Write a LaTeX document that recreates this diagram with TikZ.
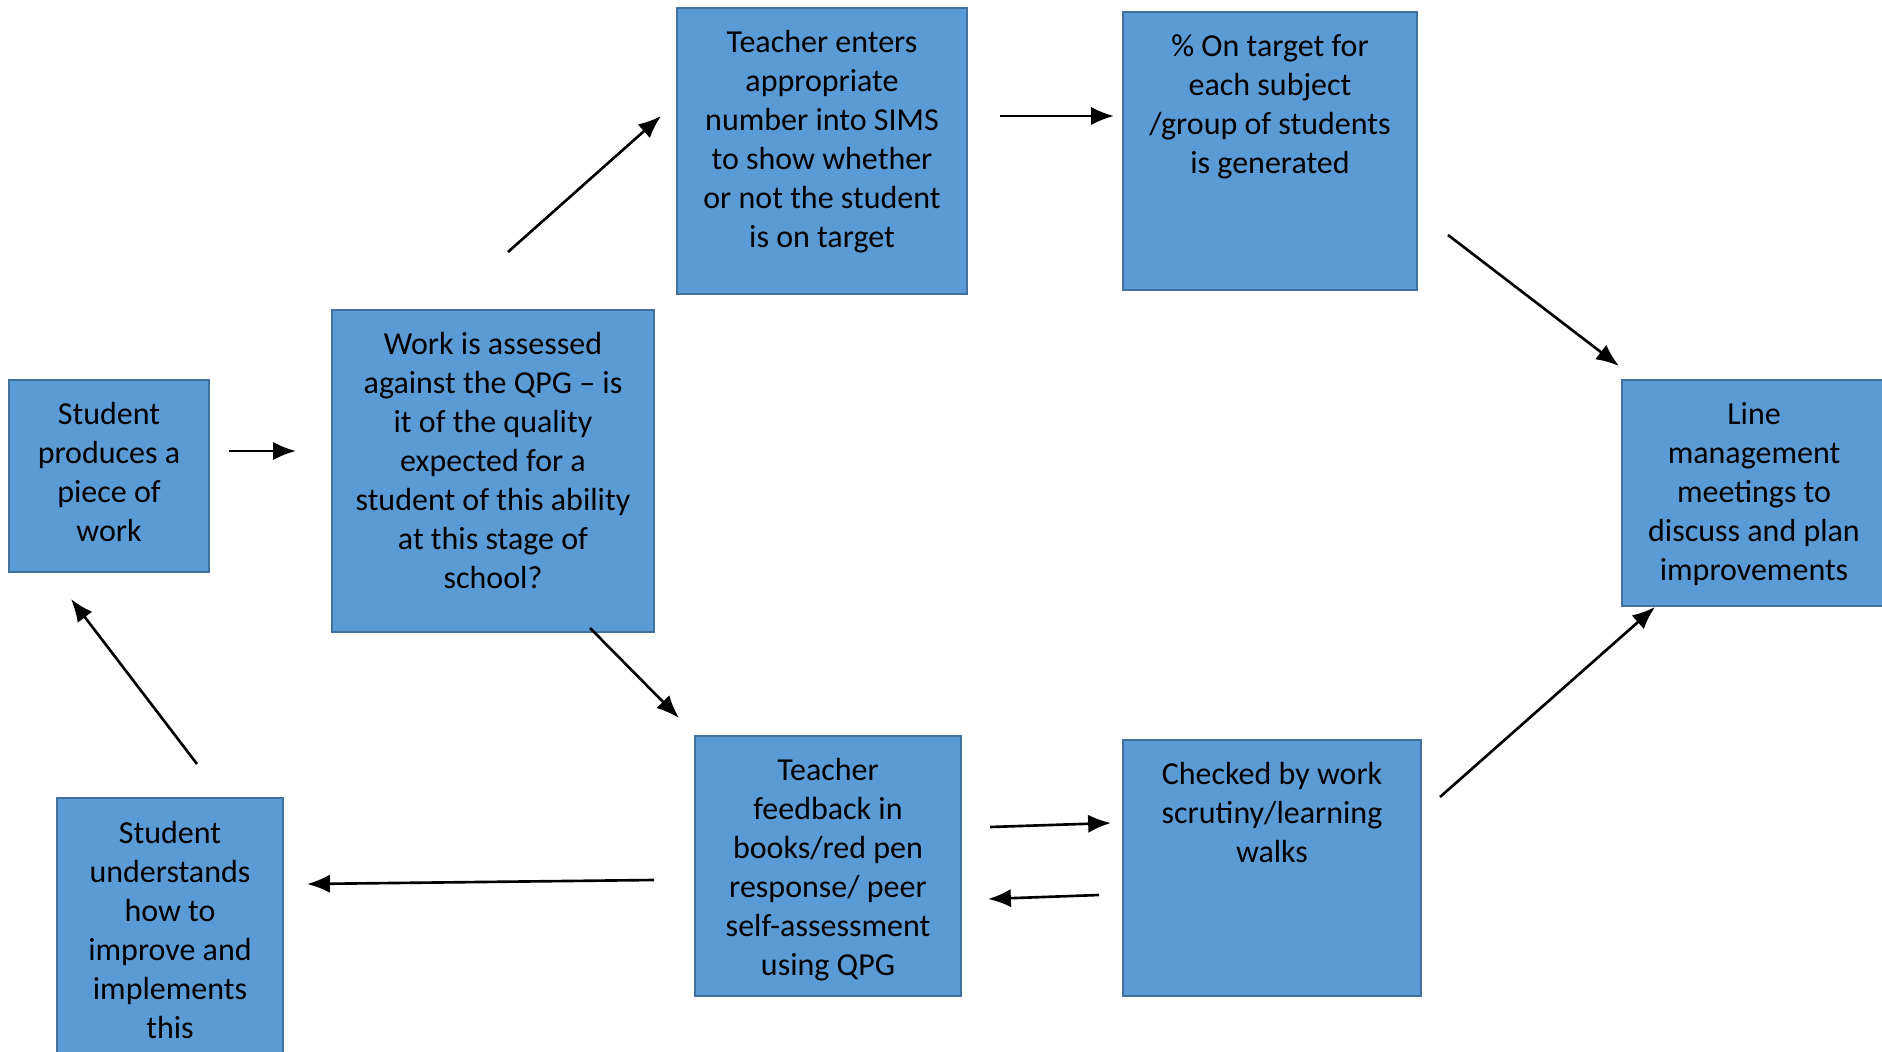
\documentclass[tikz,border=0pt]{standalone}
\usepackage{fontspec}
\setmainfont{Carlito}
\usetikzlibrary{arrows.meta}
\definecolor{boxblue}{HTML}{5B9BD5}
\definecolor{boxline}{HTML}{41719C}
\tikzset{
	stepbox/.style={draw=boxline, fill=boxblue, line width=0.6pt, inner sep=0pt},
	steptext/.style={anchor=north, align=center, inner sep=0pt, font=\fontsize{9.1pt}{11.1pt}\selectfont},
	flow/.style={-{Latex[length=6.5pt,width=5.2pt]}, line width=0.75pt}
}
\begin{document}
\begin{tikzpicture}[x=0.01cm,y=-0.01cm]
			\useasboundingbox (0,0) rectangle (1882,1052);
			\node[stepbox, minimum width=1.99cm, minimum height=1.92cm] (produce) at (109,476) {};
			\node[stepbox, minimum width=3.22cm, minimum height=3.22cm] (assess) at (493,471) {};
			\node[stepbox, minimum width=2.90cm, minimum height=2.86cm] (enter) at (822,151) {};
			\node[stepbox, minimum width=2.94cm, minimum height=2.78cm] (target) at (1270,151) {};
			\node[stepbox, minimum width=2.64cm, minimum height=2.26cm] (meet) at (1754,493) {};
			\node[stepbox, minimum width=2.66cm, minimum height=2.60cm] (feedback) at (828,866) {};
			\node[stepbox, minimum width=2.97cm, minimum height=2.56cm] (check) at (1272,868) {};
			\node[stepbox, minimum width=2.25cm, minimum height=2.71cm] (improve) at (170,934) {};
			\node[steptext] (produce-t) at ([yshift=-6.5pt]produce.north) {Student\\produces a\\piece of\\work};
			\node[steptext] (assess-t) at ([yshift=-6.5pt]assess.north) {Work is assessed\\against the QPG – is\\it of the quality\\expected for a\\student of this ability\\at this stage of\\school?};
			\node[steptext] (enter-t) at ([yshift=-6.5pt]enter.north) {Teacher enters\\appropriate\\number into SIMS\\to show whether\\or not the student\\is on target};
			\node[steptext] (target-t) at ([yshift=-6.5pt]target.north) {\% On target for\\each subject\\/group of students\\is generated};
			\node[steptext] (meet-t) at ([yshift=-6.5pt]meet.north) {Line\\management\\meetings to\\discuss and plan\\improvements};
			\node[steptext] (feedback-t) at ([yshift=-6.5pt]feedback.north) {Teacher\\feedback in\\books/red pen\\response/ peer\\self-assessment\\using QPG};
			\node[steptext] (check-t) at ([yshift=-6.5pt]check.north) {Checked by work\\scrutiny/learning\\walks};
			\node[steptext] (improve-t) at ([yshift=-6.5pt]improve.north) {Student\\understands\\how to\\improve and\\implements\\this};
			\coordinate (pa) at (229,451);   \coordinate (pb) at (296,451);
			\coordinate (ea) at (508,252);   \coordinate (eb) at (661,116);
			\coordinate (ta) at (1000,116);  \coordinate (tb) at (1114,116);
			\coordinate (ma) at (1448,235);  \coordinate (mb) at (1619,366);
			\coordinate (ca) at (1440,797);  \coordinate (cb) at (1655,607);
			\coordinate (fa) at (590,628);   \coordinate (fb) at (679,718);
			\coordinate (ga) at (990,827);   \coordinate (gb) at (1111,823);
			\coordinate (ba) at (1099,895);  \coordinate (bb) at (988,899);
			\coordinate (ia) at (654,880);   \coordinate (ib) at (307,884);
			\coordinate (sa) at (197,764);   \coordinate (sb) at (71,599);
			\draw[flow] (pa)--(pb);
			\draw[flow] (ea)--(eb);
			\draw[flow] (ta)--(tb);
			\draw[flow] (ma)--(mb);
			\draw[flow] (ca)--(cb);
			\draw[flow] (fa)--(fb);
			\draw[flow] (ga)--(gb);
			\draw[flow] (ba)--(bb);
			\draw[flow] (ia)--(ib);
			\draw[flow] (sa)--(sb);
		\end{tikzpicture}
\end{document}
